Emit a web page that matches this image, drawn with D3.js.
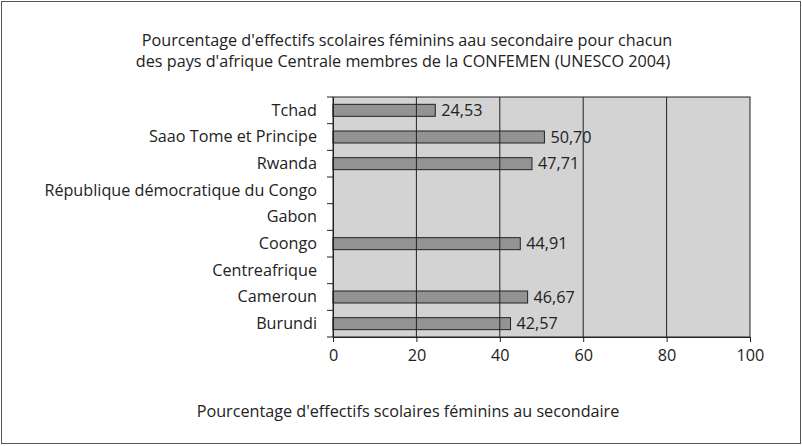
<!DOCTYPE html>
<html><head><meta charset="utf-8">
<script src="https://cdn.jsdelivr.net/npm/d3@7"></script>
<style>body{margin:0;background:#fff}svg{display:block}text{font-family:"Open Sans","Noto Sans",sans-serif;fill:#222}</style>
</head><body><svg id="c" width="802" height="446"></svg>
<script>
const categories = ["Tchad","Saao Tome et Principe","Rwanda","République démocratique du Congo","Gabon","Coongo","Centreafrique","Cameroun","Burundi"];
const values = [24.53, 50.70, 47.71, null, null, 44.91, null, 46.67, 42.57];
const xTicks = [0,20,40,60,80,100];
const titleLines = ["Pourcentage d'effectifs scolaires féminins aau secondaire pour chacun","des pays d'afrique Centrale membres de la CONFEMEN (UNESCO 2004)"];
const axisTitle = "Pourcentage d'effectifs scolaires féminins au secondaire";

const FF = "'Open Sans'";
const FS = 16.2;
const svg = d3.select("#c");
svg.append("rect").attr("x",1.5).attr("y",1.5).attr("width",799).attr("height",442).attr("fill","#fff").attr("stroke","#555").attr("stroke-width",1);

const L=333, R=750, T=97, B=337;
const x = d3.scaleLinear().domain([0,100]).range([L,R]);
const y = d3.scaleBand().domain(categories).range([T,B]).paddingInner(0.55).paddingOuter(0.275);
const yb = d3.scaleBand().domain(categories).range([T,B]);

svg.append("rect").attr("x",L).attr("y",T).attr("width",R-L).attr("height",B-T).attr("fill","#d3d3d3").attr("stroke","#222").attr("stroke-width",1);

const data = categories.map((c,i)=>({c,v:values[i]})).filter(d=>d.v!=null);
svg.append("g").selectAll("rect").data(data).join("rect")
  .attr("x",L).attr("y",d=>y(d.c)).attr("width",d=>x(d.v)-L).attr("height",y.bandwidth())
  .attr("fill","#939393").attr("stroke","#222").attr("stroke-width",1);
svg.append("g").selectAll("line").data(xTicks.slice(1,-1)).join("line")
  .attr("x1",d=>x(d)).attr("x2",d=>x(d)).attr("y1",T).attr("y2",B).attr("stroke","#222").attr("stroke-width",1);
svg.append("g").selectAll("text").data(data).join("text")
  .attr("x",d=>x(d.v)+6).attr("y",d=>y(d.c)+y.bandwidth()/2).attr("dy","0.35em")
  .attr("font-size",FS).text(d=>d.v.toFixed(2).replace(".",","));

const xa = svg.append("g").attr("transform",`translate(0,${B})`).call(d3.axisBottom(x).tickValues(xTicks).tickSize(5).tickPadding(7));
xa.select(".domain").attr("stroke","#222");
xa.selectAll("line").attr("stroke","#222");
xa.selectAll("text").attr("font-size",FS).attr("font-family",FF).attr("fill","#222");

const ya = svg.append("g").attr("transform",`translate(${L},0)`).call(d3.axisLeft(yb).tickSize(0).tickPadding(16));
ya.select(".domain").attr("stroke","#222");
ya.selectAll("text").attr("font-size",FS).attr("font-family",FF).attr("fill","#222");
svg.append("g").selectAll("line").data(d3.range(categories.length+1)).join("line")
  .attr("x1",L-6).attr("x2",L).attr("y1",i=>T+i*yb.step()).attr("y2",i=>T+i*yb.step()).attr("stroke","#222");

svg.append("text").attr("x",407).attr("y",46).attr("text-anchor","middle").attr("font-size",FS).text(titleLines[0]);
svg.append("text").attr("x",403).attr("y",67).attr("text-anchor","middle").attr("font-size",FS).text(titleLines[1]);
svg.append("text").attr("x",408).attr("y",417).attr("text-anchor","middle").attr("font-size",FS).text(axisTitle);
</script></body></html>
